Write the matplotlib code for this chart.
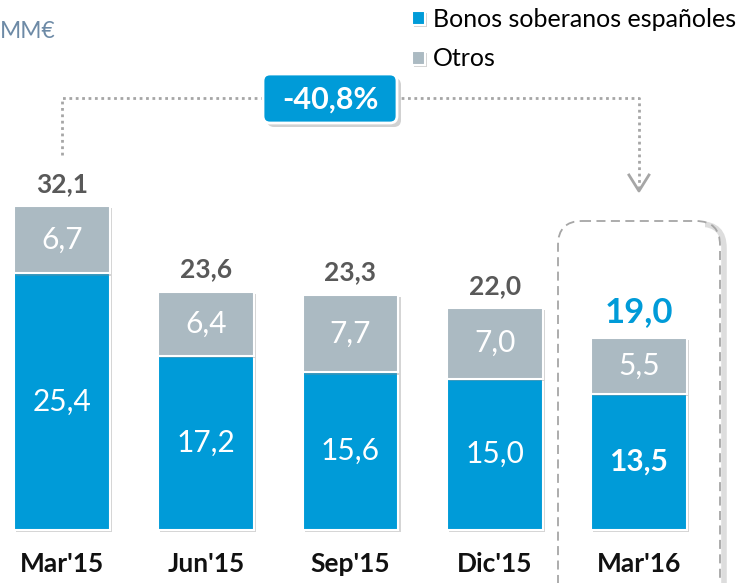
import matplotlib
matplotlib.use("Agg")
import matplotlib.pyplot as plt
import matplotlib.patheffects as pe
from matplotlib.patches import FancyBboxPatch, Rectangle

# datos (MM€)
periods = ["Mar'15", "Jun'15", "Sep'15", "Dic'15", "Mar'16"]
bonos = [25.4, 17.2, 15.6, 15.0, 13.5]
otros = [6.7, 6.4, 7.7, 7.0, 5.5]
totals = [32.1, 23.6, 23.3, 22.0, 19.0]

BLUE = '#009bd8'
GREY = '#abbac2'
DARK = '#595959'
W, H = 748, 583

plt.rcParams['font.family'] = ['Lato', 'DejaVu Sans']

def fmt(v):
    return ('%.1f' % v).replace('.', ',')

fig = plt.figure(figsize=(W/100, H/100), dpi=100)
ax = fig.add_axes([0, 0, 1, 1])
ax.set_xlim(-0.43, 4.756)
ax.set_ylim(-5.25, 52.48)
ax.axis('off')

x = list(range(len(periods)))
shadow = [pe.SimplePatchShadow(offset=(1.5, -1.5), shadow_rgbFace='#888888', alpha=0.35), pe.Normal()]
b1 = ax.bar(x, bonos, width=0.665, color=BLUE, edgecolor='white', linewidth=1.5,
            label='Bonos soberanos españoles')
b2 = ax.bar(x, otros, bottom=bonos, width=0.665, color=GREY, edgecolor='white', linewidth=1.5,
            label='Otros')
for p in list(b1) + list(b2):
    p.set_path_effects(shadow)

last = len(periods) - 1
for i in x:
    hl = i == last
    ax.text(i, bonos[i]/2, fmt(bonos[i]), ha='center', va='center', color='white',
            fontsize=21.5, fontweight='bold' if hl else 'normal')
    ax.text(i, bonos[i] + otros[i]/2, fmt(otros[i]), ha='center', va='center',
            color='white', fontsize=21.5)
    ax.text(i, totals[i] + 1.0, fmt(totals[i]), ha='center', va='bottom',
            color=BLUE if hl else DARK, fontsize=25 if hl else 19, fontweight='bold')
    ax.text(i, -3.4, periods[i], ha='center', va='center', color='#111111',
            fontsize=19, fontweight='bold')

# capa de anotaciones en pixeles
ov = fig.add_axes([0, 0, 1, 1])
ov.set_xlim(0, W)
ov.set_ylim(H, 0)
ov.axis('off')
ov.patch.set_alpha(0)

def to_px(xd, yd):
    X, Y = ax.transData.transform((xd, yd))
    return X, H - Y

ov.text(0, 31, 'MM€', ha='left', va='center', color='#6d8aa6', fontsize=16.5)

# corchete punteado
x0, _ = to_px(0, 0)
x4, _ = to_px(last, 0)
ybr = 98
ov.plot([x0, x0, x4, x4], [155, ybr, ybr, 189], color='#a6a6a6', lw=2,
        linestyle=(0, (1, 1.3)), solid_capstyle='butt', zorder=1)
ov.plot([x4 - 10, x4, x4 + 10], [175, 191, 175], color='#a6a6a6', lw=2, zorder=1)

change = (totals[-1] - totals[0]) / totals[0] * 100
bx0, bx1, by0, by1 = 263, 397, 74, 123
ov.add_patch(FancyBboxPatch((bx0 + 4, by0 + 4), bx1 - bx0, by1 - by0,
             boxstyle='round,pad=0,rounding_size=7', fc='#000000', ec='none', alpha=0.18, zorder=3))
ov.add_patch(FancyBboxPatch((bx0, by0), bx1 - bx0, by1 - by0,
             boxstyle='round,pad=0,rounding_size=7', fc=BLUE, ec='white', lw=2, zorder=4))
ov.text((bx0 + bx1)/2, (by0 + by1)/2 + 1, fmt(change) + '%', ha='center', va='center',
        color='white', fontsize=22, fontweight='bold', zorder=5)

# recuadro discontinuo del ultimo periodo (sombra solo a la derecha)
sh = FancyBboxPatch((562, 224), 162, 420, boxstyle='round,pad=0,rounding_size=24',
                    fc='none', ec='#cfcfcf', lw=4, alpha=0.7)
ov.add_patch(sh)
sh.set_clip_path(Rectangle((705, 200), 60, 400, transform=ov.transData))
ov.add_patch(FancyBboxPatch((558, 221), 162, 420,
             boxstyle='round,pad=0,rounding_size=24', fc='none', ec='#a6a6a6', lw=1.3,
             linestyle=(0, (5, 3))))

fig.legend(handles=[b1, b2], loc='upper left', bbox_to_anchor=(402/W, 1 + 2/H),
           frameon=False, fontsize=18, handlelength=0.5, handleheight=0.5,
           handletextpad=0.35, labelspacing=0.66, borderaxespad=0)

fig.savefig('out.png', dpi=100)
